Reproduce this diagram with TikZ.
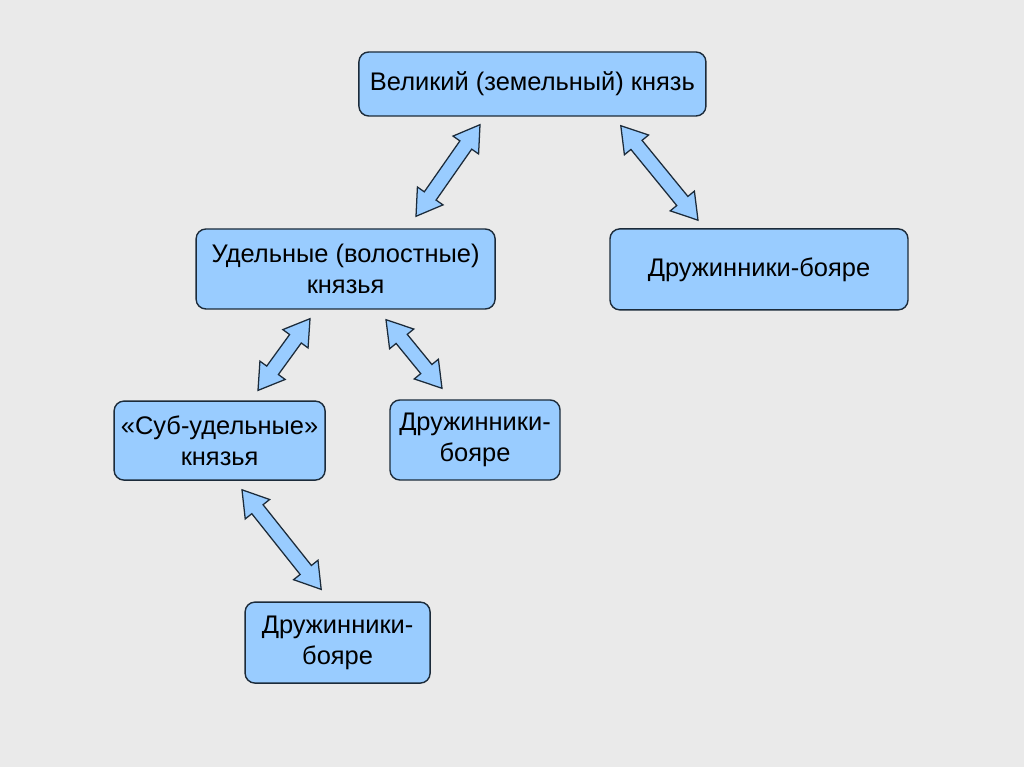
\documentclass[tikz,border=0pt]{standalone}
\usepackage{fontspec}
\setmainfont{Liberation Sans}
\usepackage{xcolor}
\definecolor{BoxBlue}{HTML}{99CCFF}
\definecolor{BoxLine}{HTML}{1C2B3A}
\definecolor{PageGray}{HTML}{EAEAEA}
\usetikzlibrary{calc}

% Doppelpfeil (Blockpfeil) zwischen zwei Koordinaten
\newcommand{\dpfeil}[2]{%
  \coordinate (h1) at ($(#1)!0.62cm!(#2)$);
  \coordinate (h2) at ($(#2)!0.62cm!(#1)$);
  \draw[pfeil] (#1)
    -- ($(h1)!0.39cm!-90:(#2)$) -- ($(h1)!0.18cm!-90:(#2)$)
    -- ($(h2)!0.18cm!90:(#1)$) -- ($(h2)!0.39cm!90:(#1)$)
    -- (#2)
    -- ($(h2)!0.39cm!-90:(#1)$) -- ($(h2)!0.18cm!-90:(#1)$)
    -- ($(h1)!0.18cm!90:(#2)$) -- ($(h1)!0.39cm!90:(#2)$)
    -- cycle;%
}

\begin{document}
\begin{tikzpicture}[
  % Kasten mit abgerundeten Ecken
  kasten/.style={
    draw=BoxLine,
    fill=BoxBlue,
    line width=1pt,
    rounded corners=7pt,
    align=center,
    font=\fontsize{18.1}{22}\selectfont,
    inner sep=0pt
  },
  % Blockpfeil
  pfeil/.style={
    draw=BoxLine,
    fill=BoxBlue,
    line width=0.9pt
  }
]

% =============================================================================
% HINTERGRUND
% =============================================================================
\fill[PageGray] (0,0) rectangle (25.6,19.175);
\useasboundingbox (0,0) rectangle (25.6,19.175);

% =============================================================================
% KNOTEN
% =============================================================================
\node[kasten, minimum width=8.675cm, minimum height=1.6cm] (grossfuerst) at (13.31,17.075) {Великий (земельный) князь};

\node[kasten, minimum width=7.475cm, minimum height=2.0cm] (udel) at (8.64,12.45) {Удельные (волостные)\\князья};

\node[kasten, minimum width=7.45cm, minimum height=2.025cm] (druzhinaA) at (18.975,12.44) {Дружинники-бояре};

\node[kasten, minimum width=5.275cm, minimum height=1.975cm] (subudel) at (5.49,8.16) {«Суб-удельные»\\князья};

\node[kasten, minimum width=4.25cm, minimum height=2.0cm] (druzhinaB) at (11.875,8.175) {Дружинники-\\бояре};

\node[kasten, minimum width=4.625cm, minimum height=2.025cm] (druzhinaC) at (8.44,3.11) {Дружинники-\\бояре};

% =============================================================================
% PFEILE
% =============================================================================
\coordinate (gu1) at ([shift={(-1.31,-0.2)}]grossfuerst.south);
\coordinate (gu2) at ([shift={(1.76,0.3)}]udel.north);
\dpfeil{gu1}{gu2}

\coordinate (gd1) at ([shift={(2.21,-0.225)}]grossfuerst.south);
\coordinate (gd2) at ([shift={(-1.525,0.2)}]druzhinaA.north);
\dpfeil{gd1}{gd2}

\coordinate (us1) at ([shift={(-0.89,-0.225)}]udel.south);
\coordinate (us2) at ([shift={(0.96,0.25)}]subudel.north);
\dpfeil{us1}{us2}

\coordinate (ud1) at ([shift={(1.01,-0.25)}]udel.south);
\coordinate (ud2) at ([shift={(-0.825,0.275)}]druzhinaB.north);
\dpfeil{ud1}{ud2}

\coordinate (sd1) at ([shift={(0.56,-0.225)}]subudel.south);
\coordinate (sd2) at ([shift={(-0.41,0.3)}]druzhinaC.north);
\dpfeil{sd1}{sd2}

\end{tikzpicture}
\end{document}
